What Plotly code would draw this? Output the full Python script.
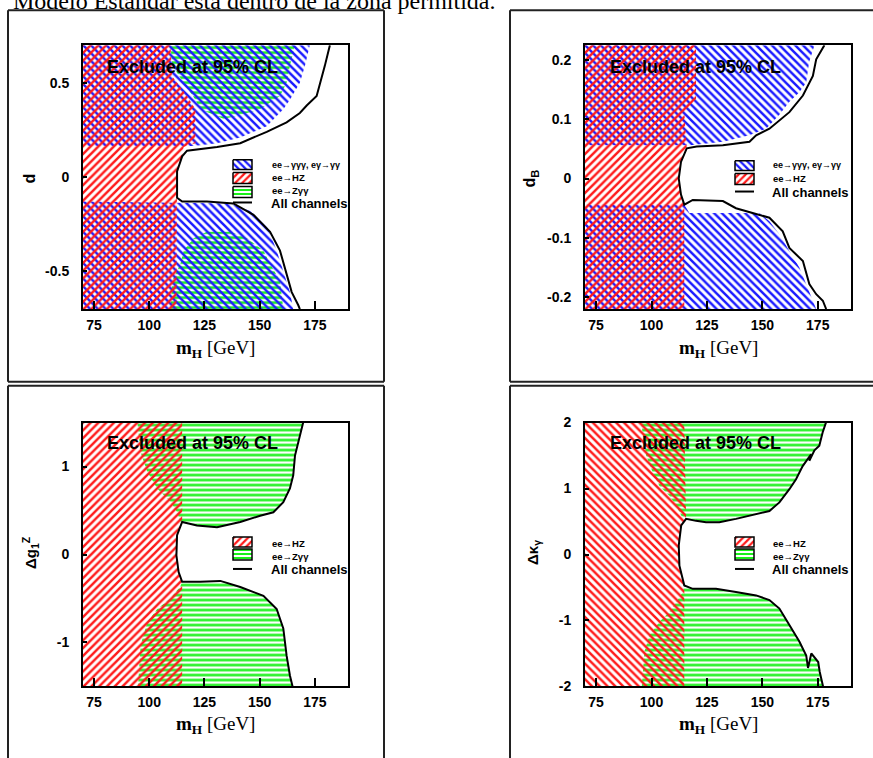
import plotly.graph_objects as go

W, H = 873, 758

# ---------------- data ----------------
x_ticks = [75, 100, 125, 150, 175]
x_ticktext = ["75", "100", "125", "150", "175"]

# Panel 1: d
tl_yticks = [0.5, 0, -0.5]
tl_yticktext = ["0.5", "0", "-0.5"]
tl_all_x = [181.8, 179.5, 175.8, 171.3, 168.2, 162.2, 153.2, 141.2, 130.7, 117.1, 114.9, 112.6,
            112.6, 114.9, 126.1, 138.1, 147.2, 154.7, 159.2, 162.2, 164.5, 167.5, 168.2]
tl_all_y = [0.70, 0.59, 0.43, 0.38, 0.34, 0.29, 0.24, 0.18, 0.16, 0.14, 0.11, 0.03,
            -0.11, -0.13, -0.13, -0.14, -0.20, -0.29, -0.39, -0.52, -0.61, -0.68, -0.70]
tl_red_x = [70, 109.6, 110.4, 117.1, 120.9, 120.9, 115.6, 114.9, 112.6, 112.6, 112.3, 112.3, 70]
tl_red_y = [0.7, 0.7, 0.535, 0.43, 0.36, 0.18, 0.16, 0.11, 0.03, -0.11, -0.15, -0.7, -0.7]
tl_blue_up_x = [70, 172.7, 170.5, 168.2, 163.7, 160.7, 153.2, 141.2, 130.7, 120.1, 70]
tl_blue_up_y = [0.7, 0.7, 0.59, 0.50, 0.41, 0.36, 0.27, 0.21, 0.18, 0.165, 0.165]
tl_blue_lo_x = [70, 136.7, 145.7, 153.2, 157.7, 160.7, 163.7, 165.2, 70]
tl_blue_lo_y = [-0.13, -0.14, -0.18, -0.255, -0.39, -0.50, -0.61, -0.70, -0.70]
tl_green_up_x = [109.6, 166.0, 163.7, 162.2, 159.2, 150.2, 138.1, 133.6, 123.1, 120.9, 115.6, 110.4]
tl_green_up_y = [0.7, 0.7, 0.59, 0.50, 0.43, 0.36, 0.32, 0.31, 0.36, 0.41, 0.50, 0.59]
tl_green_lo_x = [126.1, 136.7, 144.2, 151.7, 154.7, 159.2, 160.7, 109.6, 110.4, 114.1, 115.6, 120.1]
tl_green_lo_y = [-0.29, -0.29, -0.325, -0.39, -0.46, -0.55, -0.70, -0.70, -0.55, -0.46, -0.39, -0.325]

# Panel 2: d_B
tr_yticks = [0.2, 0.1, 0, -0.1, -0.2]
tr_yticktext = ["0.2", "0.1", "0", "-0.1", "-0.2"]
tr_all_x = [178.0, 175.8, 174.3, 172.8, 168.3, 162.2, 153.2, 147.2, 144.2, 132.2, 120.4, 115.9, 113.3,
            112.3, 113.3, 114.8, 118.6, 132.2, 138.1, 145.6, 153.2, 159.2, 162.2, 168.3, 171.2, 174.3,
            177.3, 178.8]
tr_all_y = [0.225, 0.212, 0.201, 0.173, 0.140, 0.112, 0.084, 0.073, 0.062, 0.056, 0.054, 0.051, 0.028,
            0.0, -0.027, -0.044, -0.036, -0.038, -0.050, -0.058, -0.066, -0.089, -0.117, -0.139, -0.178,
            -0.195, -0.206, -0.22]
tr_red_x = [70, 120.1, 120.1, 114.8, 115.9, 113.3, 112.3, 113.3, 114.8, 114.8, 70]
tr_red_y = [0.225, 0.225, 0.134, 0.112, 0.051, 0.028, 0.0, -0.027, -0.044, -0.22, -0.22]
tr_blue_up_x = [70, 173.5, 171.1, 169.8, 166.6, 162.1, 157.6, 151.7, 144.1, 132.3, 117.4, 70]
tr_blue_up_y = [0.225, 0.225, 0.196, 0.162, 0.145, 0.129, 0.107, 0.084, 0.073, 0.062, 0.056, 0.056]
tr_blue_lo_x = [70, 114.8, 117.1, 148.7, 153.2, 157.7, 162.2, 166.7, 169.8, 172.8, 174.3, 70]
tr_blue_lo_y = [-0.044, -0.044, -0.058, -0.058, -0.072, -0.094, -0.122, -0.150, -0.178, -0.206, -0.22, -0.22]

# Panel 3: Delta g1Z
bl_yticks = [1, 0, -1]
bl_yticktext = ["1", "0", "-1"]
bl_up_x = [169.7, 168.2, 166.0, 165.2, 163.7, 160.7, 156.2, 150.2, 141.2, 130.7, 121.6]
bl_up_y = [1.50, 1.35, 1.125, 0.90, 0.75, 0.595, 0.48, 0.44, 0.37, 0.31, 0.33]
bl_mid_x = [114.9, 112.6, 112.3, 113.3, 114.9]
bl_mid_y = [0.37, 0.22, -0.01, -0.20, -0.31]
bl_lo_x = [123.1, 132.2, 141.2, 151.7, 157.7, 160.7, 162.2, 163.7, 164.9]
bl_lo_y = [-0.31, -0.30, -0.37, -0.47, -0.62, -0.84, -1.15, -1.375, -1.50]
bl_red_edge = 114.9
bl_slant_up_x = [94.6, 96.1, 99.1, 103.6, 109.6, 112.6, 114.1]
bl_slant_up_y = [1.5, 1.16, 0.94, 0.75, 0.60, 0.48, 0.37]
bl_slant_lo_x = [114.1, 109.6, 103.6, 99.1, 96.1, 94.9]
bl_slant_lo_y = [-0.36, -0.50, -0.62, -0.77, -1.03, -1.5]

# Panel 4: Delta kappa_gamma
br_yticks = [2, 1, 0, -1, -2]
br_yticktext = ["2", "1", "0", "-1", "-2"]
br_up_x = [178.7, 177.2, 175.7, 173.5, 171.2, 172.0, 168.2, 165.2, 162.2, 157.7, 153.2, 147.2, 138.1,
           130.6, 124.6, 120.1, 115.6]
br_up_y = [2.0, 1.85, 1.65, 1.58, 1.42, 1.52, 1.34, 1.14, 0.99, 0.79, 0.66, 0.61, 0.54, 0.49, 0.49, 0.51, 0.54]
br_mid_x = [113.4, 112.3, 112.6, 114.8]
br_mid_y = [0.44, 0.14, -0.17, -0.47]
br_lo_x = [118.6, 129.1, 138.1, 147.2, 153.2, 157.7, 162.2, 166.7, 169.8, 170.6, 172.1, 175.2, 175.9, 177.4]
br_lo_y = [-0.52, -0.52, -0.57, -0.62, -0.69, -0.82, -1.07, -1.32, -1.53, -1.72, -1.50, -1.63, -1.78, -2.0]
br_red_edge = 114.8
br_slant_up_x = [95.3, 97.6, 100.6, 103.6, 108.1, 111.2, 113.4]
br_slant_up_y = [2.0, 1.50, 1.24, 1.04, 0.89, 0.74, 0.59]
br_slant_lo_x = [114.1, 111.2, 108.1, 103.6, 99.1, 96.8, 95.6]
br_slant_lo_y = [-0.57, -0.72, -0.87, -1.02, -1.22, -1.47, -2.0]

CAPTION = "Modelo Estándar está dentro de la zona permitida."

# ---------------- styling ----------------
RED = "#ff1a1a"
BLUE = "#1a1aff"
GREEN = "#19f019"
FONT = "Liberation Sans"
SERIF = "Liberation Serif"
HSIZE = 5.5
HSOL = 0.45

# the page photo maps figure rows y -> Y0 + K*y ; positions below are given in photo pixels
Y0, K = 5.7, 0.983


def px(x):
    return x / W


def py(y):
    return 1 - ((y - Y0) / K) / H


fig = go.Figure()


def poly(xs, ys, xa, ya, shape, color, size=HSIZE, sol=HSOL):
    xs = list(xs) + [xs[0]]
    ys = list(ys) + [ys[0]]
    fig.add_trace(go.Scatter(
        x=xs, y=ys, xaxis=xa, yaxis=ya, mode="lines",
        line=dict(width=0, color=color), fill="toself",
        fillcolor="rgba(0,0,0,0)",
        fillpattern=dict(shape=shape, fgcolor=color, bgcolor="rgba(0,0,0,0)",
                         size=size, solidity=sol, fillmode="replace"),
        hoverinfo="skip", showlegend=False))


def line(xs, ys, xa, ya):
    fig.add_trace(go.Scatter(x=xs, y=ys, xaxis=xa, yaxis=ya, mode="lines",
                             line=dict(color="black", width=2),
                             hoverinfo="skip", showlegend=False))


GS, GSOL = 5, 0.5

# Panel 1
poly(tl_green_up_x, tl_green_up_y, "x", "y", "-", GREEN, GS, GSOL)
poly(tl_green_lo_x, tl_green_lo_y, "x", "y", "-", GREEN, GS, GSOL)
poly(tl_blue_up_x, tl_blue_up_y, "x", "y", "\\", BLUE)
poly(tl_blue_lo_x, tl_blue_lo_y, "x", "y", "\\", BLUE)
poly(tl_red_x, tl_red_y, "x", "y", "/", RED)
line(tl_all_x, tl_all_y, "x", "y")

# Panel 2
poly(tr_blue_up_x, tr_blue_up_y, "x2", "y2", "\\", BLUE)
poly(tr_blue_lo_x, tr_blue_lo_y, "x2", "y2", "\\", BLUE)
poly(tr_red_x, tr_red_y, "x2", "y2", "/", RED)
line(tr_all_x, tr_all_y, "x2", "y2")

# Panel 3
g_up_x = bl_slant_up_x + [bl_mid_x[0]] + bl_up_x[::-1]
g_up_y = bl_slant_up_y + [bl_mid_y[0]] + bl_up_y[::-1]
g_lo_x = bl_slant_lo_x + bl_lo_x[::-1] + [bl_mid_x[-1]]
g_lo_y = bl_slant_lo_y + bl_lo_y[::-1] + [bl_mid_y[-1]]
poly(g_up_x, g_up_y, "x3", "y3", "-", GREEN, GS, GSOL)
poly(g_lo_x, g_lo_y, "x3", "y3", "-", GREEN, GS, GSOL)
r_x = [70, bl_red_edge] + bl_mid_x + [bl_red_edge, 70]
r_y = [bl_slant_up_y[0], bl_slant_up_y[0]] + bl_mid_y + [bl_slant_lo_y[-1], bl_slant_lo_y[-1]]
poly(r_x, r_y, "x3", "y3", "/", RED)
line(bl_up_x + bl_mid_x + bl_lo_x, bl_up_y + bl_mid_y + bl_lo_y, "x3", "y3")

# Panel 4
g_up_x = br_slant_up_x + br_up_x[::-1]
g_up_y = br_slant_up_y + br_up_y[::-1]
g_lo_x = br_slant_lo_x + br_lo_x[::-1] + [br_mid_x[-1]]
g_lo_y = br_slant_lo_y + br_lo_y[::-1] + [br_mid_y[-1]]
poly(g_up_x, g_up_y, "x4", "y4", "-", GREEN, GS, GSOL)
poly(g_lo_x, g_lo_y, "x4", "y4", "-", GREEN, GS, GSOL)
r_x = [70, br_red_edge, br_up_x[-1]] + br_mid_x + [br_red_edge, 70]
r_y = [2, 2, br_up_y[-1]] + br_mid_y + [-2, -2]
poly(r_x, r_y, "x4", "y4", "\\", RED)
line(br_up_x + br_mid_x + br_lo_x, br_up_y + br_mid_y + br_lo_y, "x4", "y4")


# ---------------- legends (overlay axis in photo pixel units) ----------------
def swatch(x0, y0, x1, y1, shape, color, size=5, sol=0.45):
    fig.add_trace(go.Scatter(
        x=[x0, x1, x1, x0, x0], y=[y0, y0, y1, y1, y0], xaxis="x5", yaxis="y5",
        mode="lines", line=dict(color="black", width=1.5), fill="toself",
        fillcolor="rgba(0,0,0,0)",
        fillpattern=dict(shape=shape, fgcolor=color, bgcolor="white", size=size,
                         solidity=sol, fillmode="replace"),
        hoverinfo="skip", showlegend=False))


def lline(x0, x1, y):
    fig.add_trace(go.Scatter(x=[x0, x1], y=[y, y], xaxis="x5", yaxis="y5", mode="lines",
                             line=dict(color="black", width=2), hoverinfo="skip",
                             showlegend=False))


annotations = []


def text(x, y, s, size=11, anchor="left", family=FONT, angle=0, weight="bold", yanchor="middle"):
    annotations.append(dict(x=px(x), y=py(y), xref="paper", yref="paper", text=s,
                            showarrow=False, xanchor=anchor, yanchor=yanchor, textangle=angle,
                            font=dict(family=family, size=size, color="black", weight=weight)))


L1 = "ee→γγγ, eγ→γγ"
L2 = "ee→HZ"
L3 = "ee→Zγγ"
L4 = "All channels"

# panel 1 legend
swatch(233, 158, 252, 168, "\\", BLUE)
swatch(233, 171, 252, 182, "/", RED)
swatch(233, 185, 252, 196, "-", GREEN, 4, 0.5)
lline(233, 252, 201)
text(270, 163, L1, 9)
text(270, 176, L2, 9.5)
text(270, 189, L3, 9.5)
text(269, 202, L4, 13)

# panel 2 legend
swatch(735, 159, 754, 169, "\\", BLUE)
swatch(735, 172, 754, 183, "/", RED)
lline(735, 754, 190)
text(771, 163, L1, 9)
text(771, 177, L2, 9.5)
text(770, 191, L4, 13)

# panel 3 legend
swatch(233, 537, 252, 547, "/", RED)
swatch(233, 549, 252, 560, "-", GREEN, 4, 0.5)
lline(233, 252, 569)
text(270, 543, L2, 9.5)
text(270, 556, L3, 9.5)
text(269, 570, L4, 13)

# panel 4 legend
swatch(735, 537, 754, 547, "/", RED)
swatch(735, 549, 754, 560, "-", GREEN, 4, 0.5)
lline(735, 754, 569)
text(771, 543, L2, 9.5)
text(771, 556, L3, 9.5)
text(770, 570, L4, 13)

# "Excluded" labels
for (cx, cy) in [(192, 65), (695, 65), (192, 443), (695, 443)]:
    text(cx, cy, "Excluded at 95% CL", 18, anchor="center")

# axis titles
xt = "<b>m</b><sub><b>H</b></sub> [GeV]"
for (cx, cy) in [(215, 348), (718, 348), (215, 726), (718, 726)]:
    text(cx, cy, xt, 19, anchor="center", family=SERIF, weight="normal")
text(30, 177, "d", 16, anchor="center", angle=-90)
text(531, 177, "d<sub>B</sub>", 16, anchor="center", angle=-90)
text(30, 553, "Δg<sub>1</sub><sup>Z</sup>", 15, anchor="center", angle=-90)
text(533, 553, "Δκ<sub>γ</sub>", 15, anchor="center", angle=-90)

# caption of the page, cut off at the top edge of the photo
text(11, -1, CAPTION, 24, family=SERIF, weight="normal")

# ---------------- axes ----------------
plots = {  # left, top, right, bottom (photo pixels)
    1: (83, 43, 348, 308),
    2: (585, 43, 851, 308),
    3: (83, 422, 348, 687),
    4: (585, 422, 851, 687),
}
yranges = {1: [-0.7, 0.7], 2: [-0.22, 0.225], 3: [-1.5, 1.5], 4: [-2, 2]}
yt = {1: (tl_yticks, tl_yticktext), 2: (tr_yticks, tr_yticktext),
      3: (bl_yticks, bl_yticktext), 4: (br_yticks, br_yticktext)}

layout = dict(width=W, height=H, margin=dict(l=0, r=0, t=0, b=0),
              paper_bgcolor="white", plot_bgcolor="rgba(0,0,0,0)", showlegend=False,
              annotations=annotations)
tickfont = dict(family=FONT, size=14, color="black", weight="bold")
for i, (l, t, r, b) in plots.items():
    sx = "" if i == 1 else str(i)
    layout["xaxis" + sx] = dict(domain=[px(l), px(r)], range=[70, 190], anchor="y" + sx,
                                tickvals=x_ticks, ticktext=x_ticktext, ticks="inside",
                                ticklen=8, tickwidth=1.5, tickcolor="black",
                                showline=True, linecolor="black", linewidth=2, mirror=True,
                                showgrid=False, zeroline=False, tickfont=tickfont,
                                ticklabelstandoff=2)
    layout["yaxis" + sx] = dict(domain=[py(b), py(t)], range=yranges[i], anchor="x" + sx,
                                tickvals=yt[i][0], ticktext=yt[i][1], ticks="inside",
                                ticklen=4, tickwidth=1.5, tickcolor="black",
                                showline=True, linecolor="black", linewidth=2, mirror=True,
                                showgrid=False, zeroline=False, tickfont=tickfont,
                                ticklabelstandoff=9)
layout["xaxis5"] = dict(domain=[0, 1], range=[0, W], anchor="y5", visible=False, fixedrange=True)
layout["yaxis5"] = dict(domain=[0, 1], range=[Y0 + K * H, Y0], anchor="x5", visible=False,
                        fixedrange=True)

# panel frames
frame = dict(type="line", xref="paper", yref="paper", line=dict(color="#222", width=2))
shapes = []
for (x0, y0, x1, y1) in [(8, 8, 384, 8), (8, 8, 8, 381), (384, 8, 384, 381), (8, 381, 384, 381),
                         (510, 8, 873, 8), (510, 8, 510, 381), (510, 381, 873, 381),
                         (8, 385, 384, 385), (8, 385, 8, 770), (384, 385, 384, 770),
                         (510, 385, 873, 385), (510, 385, 510, 770)]:
    s = dict(frame)
    s.update(x0=px(x0), y0=py(y0), x1=px(x1), y1=py(y1))
    shapes.append(s)
layout["shapes"] = shapes

fig.update_layout(**layout)
fig.write_html("out.html", config={"displayModeBar": False},
               post_script="document.body.style.margin='0px';"
                           "document.body.style.overflow='hidden';")
